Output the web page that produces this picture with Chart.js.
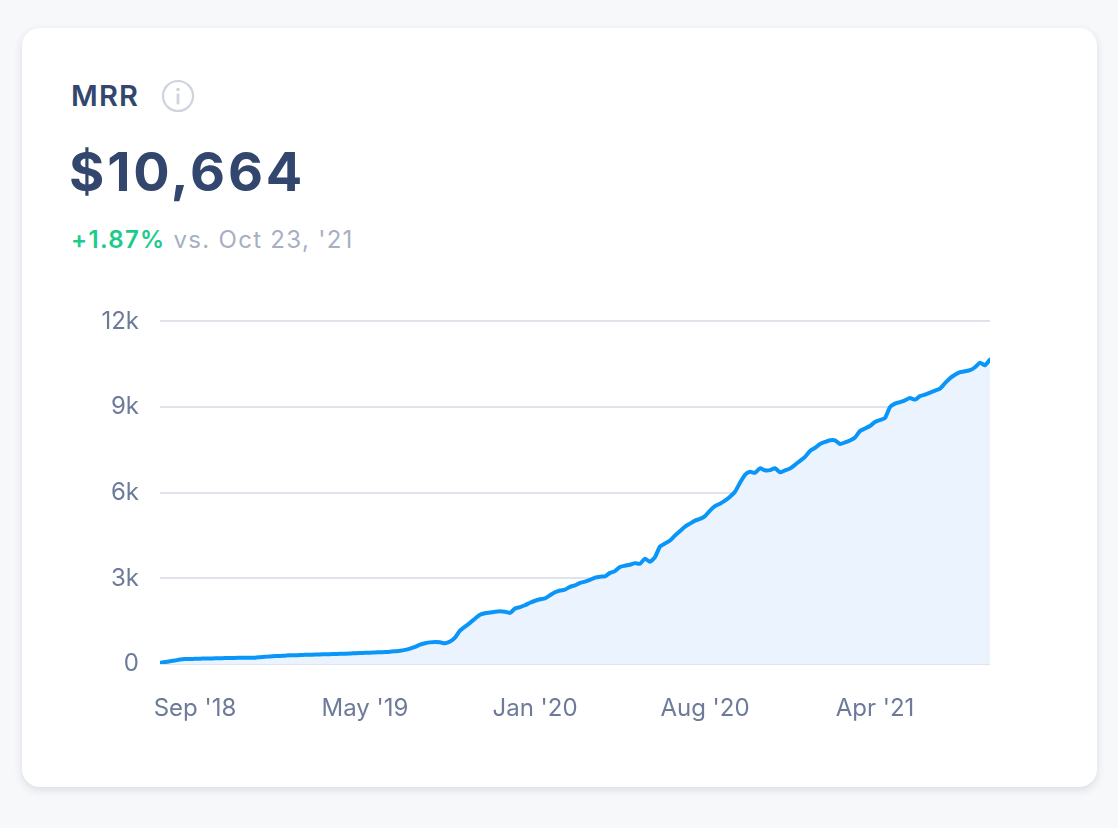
<!DOCTYPE html>
<html lang="en">
<head>
    <meta charset="UTF-8">
    <title>MRR</title>
    <style>
        body {
            margin: 0;
            width: 1118px;
            height: 828px;
            background-color: #f7f8fa;
            font-family: Inter, "Open Sans", sans-serif;
            overflow: hidden;
        }
        .card {
            position: absolute;
            left: 22px;
            top: 28px;
            width: 1075px;
            height: 759px;
            background: #fff;
            border-radius: 18px;
            box-shadow: 0 3px 8px rgba(40, 55, 90, 0.14);
        }
        .title {
            position: absolute;
            left: 71px;
            top: 78px;
            font-size: 29px;
            font-weight: 600;
            color: #33466d;
            letter-spacing: 1.2px;
        }
        .info {
            position: absolute;
            left: 161px;
            top: 79px;
        }
        .value {
            position: absolute;
            left: 69px;
            top: 139px;
            font-size: 54px;
            font-weight: 700;
            color: #33466d;
            letter-spacing: 2.8px;
        }
        .delta {
            position: absolute;
            left: 71px;
            top: 225px;
            font-size: 24px;
            color: #a7afc1;
            letter-spacing: 1.3px;
        }
        .delta b {
            color: #1ccb8b;
            font-weight: 600;
        }
        #mrr-chart {
            position: absolute;
            left: 60px;
            top: 286px;
        }
    </style>
</head>
<body>
    <div class="card"></div>
    <div class="title">MRR</div>
    <svg class="info" width="34" height="34" viewBox="0 0 34 34">
        <circle cx="17" cy="17" r="15" fill="none" stroke="#cfd3dd" stroke-width="2.2"/>
        <circle cx="17" cy="10.5" r="1.8" fill="#cfd3dd"/>
        <rect x="15.6" y="14.5" width="2.8" height="11" rx="1.2" fill="#cfd3dd"/>
    </svg>
    <div class="value">$10,664</div>
    <div class="delta"><b>+1.87%</b> vs. Oct 23, '21</div>
    <canvas id="mrr-chart" width="950" height="454"></canvas>

    <script src="https://cdn.jsdelivr.net/npm/chart.js"></script>
    <script>
        // weekly MRR (USD)
        const mrr = [
            45, 70, 94, 122, 157, 174, 174, 181, 185, 192,
            195, 199, 202, 209, 209, 213, 216, 216, 216, 223,
            237, 251, 265, 276, 283, 293, 303, 307, 314, 321,
            324, 331, 335, 342, 345, 349, 356, 359, 366, 380,
            387, 391, 398, 405, 412, 419, 429, 446, 464, 495,
            541, 600, 680, 726, 757, 767, 760, 726, 785, 924,
            1168, 1308, 1441, 1587, 1727, 1779, 1803, 1831, 1849, 1831,
            1789, 1943, 1995, 2058, 2145, 2215, 2267, 2302, 2407, 2511,
            2574, 2606, 2703, 2756, 2843, 2885, 2947, 3024, 3059, 3069,
            3192, 3254, 3401, 3443, 3478, 3533, 3512, 3687, 3582, 3743,
            4116, 4220, 4325, 4500, 4656, 4813, 4918, 5023, 5082, 5180,
            5372, 5528, 5616, 5720, 5860, 6034, 6348, 6627, 6732, 6697,
            6854, 6784, 6791, 6854, 6714, 6784, 6847, 6976, 7116, 7255,
            7464, 7569, 7708, 7778, 7837, 7837, 7708, 7761, 7831, 7935,
            8162, 8249, 8336, 8476, 8546, 8615, 8999, 9121, 9173, 9233,
            9313, 9261, 9383, 9435, 9505, 9575, 9644, 9836, 10011, 10133,
            10220, 10255, 10290, 10394, 10551, 10464, 10664
        ];
        const weeks = mrr.map((v, i) => i);

        const xTickWeeks = [7, 41, 75, 109, 143];
        const xTickLabels = ["Sep '18", "May '19", "Jan '20", "Aug '20", "Apr '21"];
        const yTickValues = [0, 3000, 6000, 9000, 12000];
        const yTickLabels = ['0', '3k', '6k', '9k', '12k'];

        const tickFont = { family: 'Inter, "Open Sans", sans-serif', size: 24 };
        const tickColor = '#6d7b99';

        const ctx = document.getElementById('mrr-chart').getContext('2d');
        new Chart(ctx, {
            type: 'line',
            data: {
                datasets: [{
                    label: 'MRR',
                    data: weeks.map(w => ({ x: w, y: mrr[w] })),
                    borderColor: '#0a96f8',
                    borderWidth: 4,
                    backgroundColor: '#eaf3fe',
                    fill: 'origin',
                    pointRadius: 0,
                    tension: 0.2,
                    borderJoinStyle: 'round',
                    borderCapStyle: 'round'
                }]
            },
            options: {
                responsive: false,
                animation: false,
                layout: { padding: { top: 6, right: 20, bottom: 0, left: 0 } },
                plugins: {
                    legend: { display: false },
                    tooltip: { enabled: false }
                },
                scales: {
                    x: {
                        type: 'linear',
                        min: 0,
                        max: mrr.length - 1,
                        grid: { display: false },
                        border: { display: false },
                        afterBuildTicks: scale => {
                            scale.ticks = xTickWeeks.map(v => ({ value: v }));
                        },
                        afterFit: scale => { scale.height = 76; },
                        ticks: {
                            autoSkip: false,
                            maxRotation: 0,
                            padding: 22,
                            color: tickColor,
                            font: tickFont,
                            callback: v => xTickLabels[xTickWeeks.indexOf(v)]
                        }
                    },
                    y: {
                        min: 0,
                        max: 12000,
                        afterBuildTicks: scale => {
                            scale.ticks = yTickValues.map(v => ({ value: v }));
                        },
                        afterFit: scale => { scale.width = 100; },
                        grid: {
                            color: '#e0e3ea',
                            lineWidth: 2,
                            drawTicks: false
                        },
                        border: { display: false },
                        ticks: {
                            padding: 21,
                            color: tickColor,
                            font: tickFont,
                            callback: v => yTickLabels[yTickValues.indexOf(v)]
                        }
                    }
                }
            }
        });
    </script>
</body>
</html>
